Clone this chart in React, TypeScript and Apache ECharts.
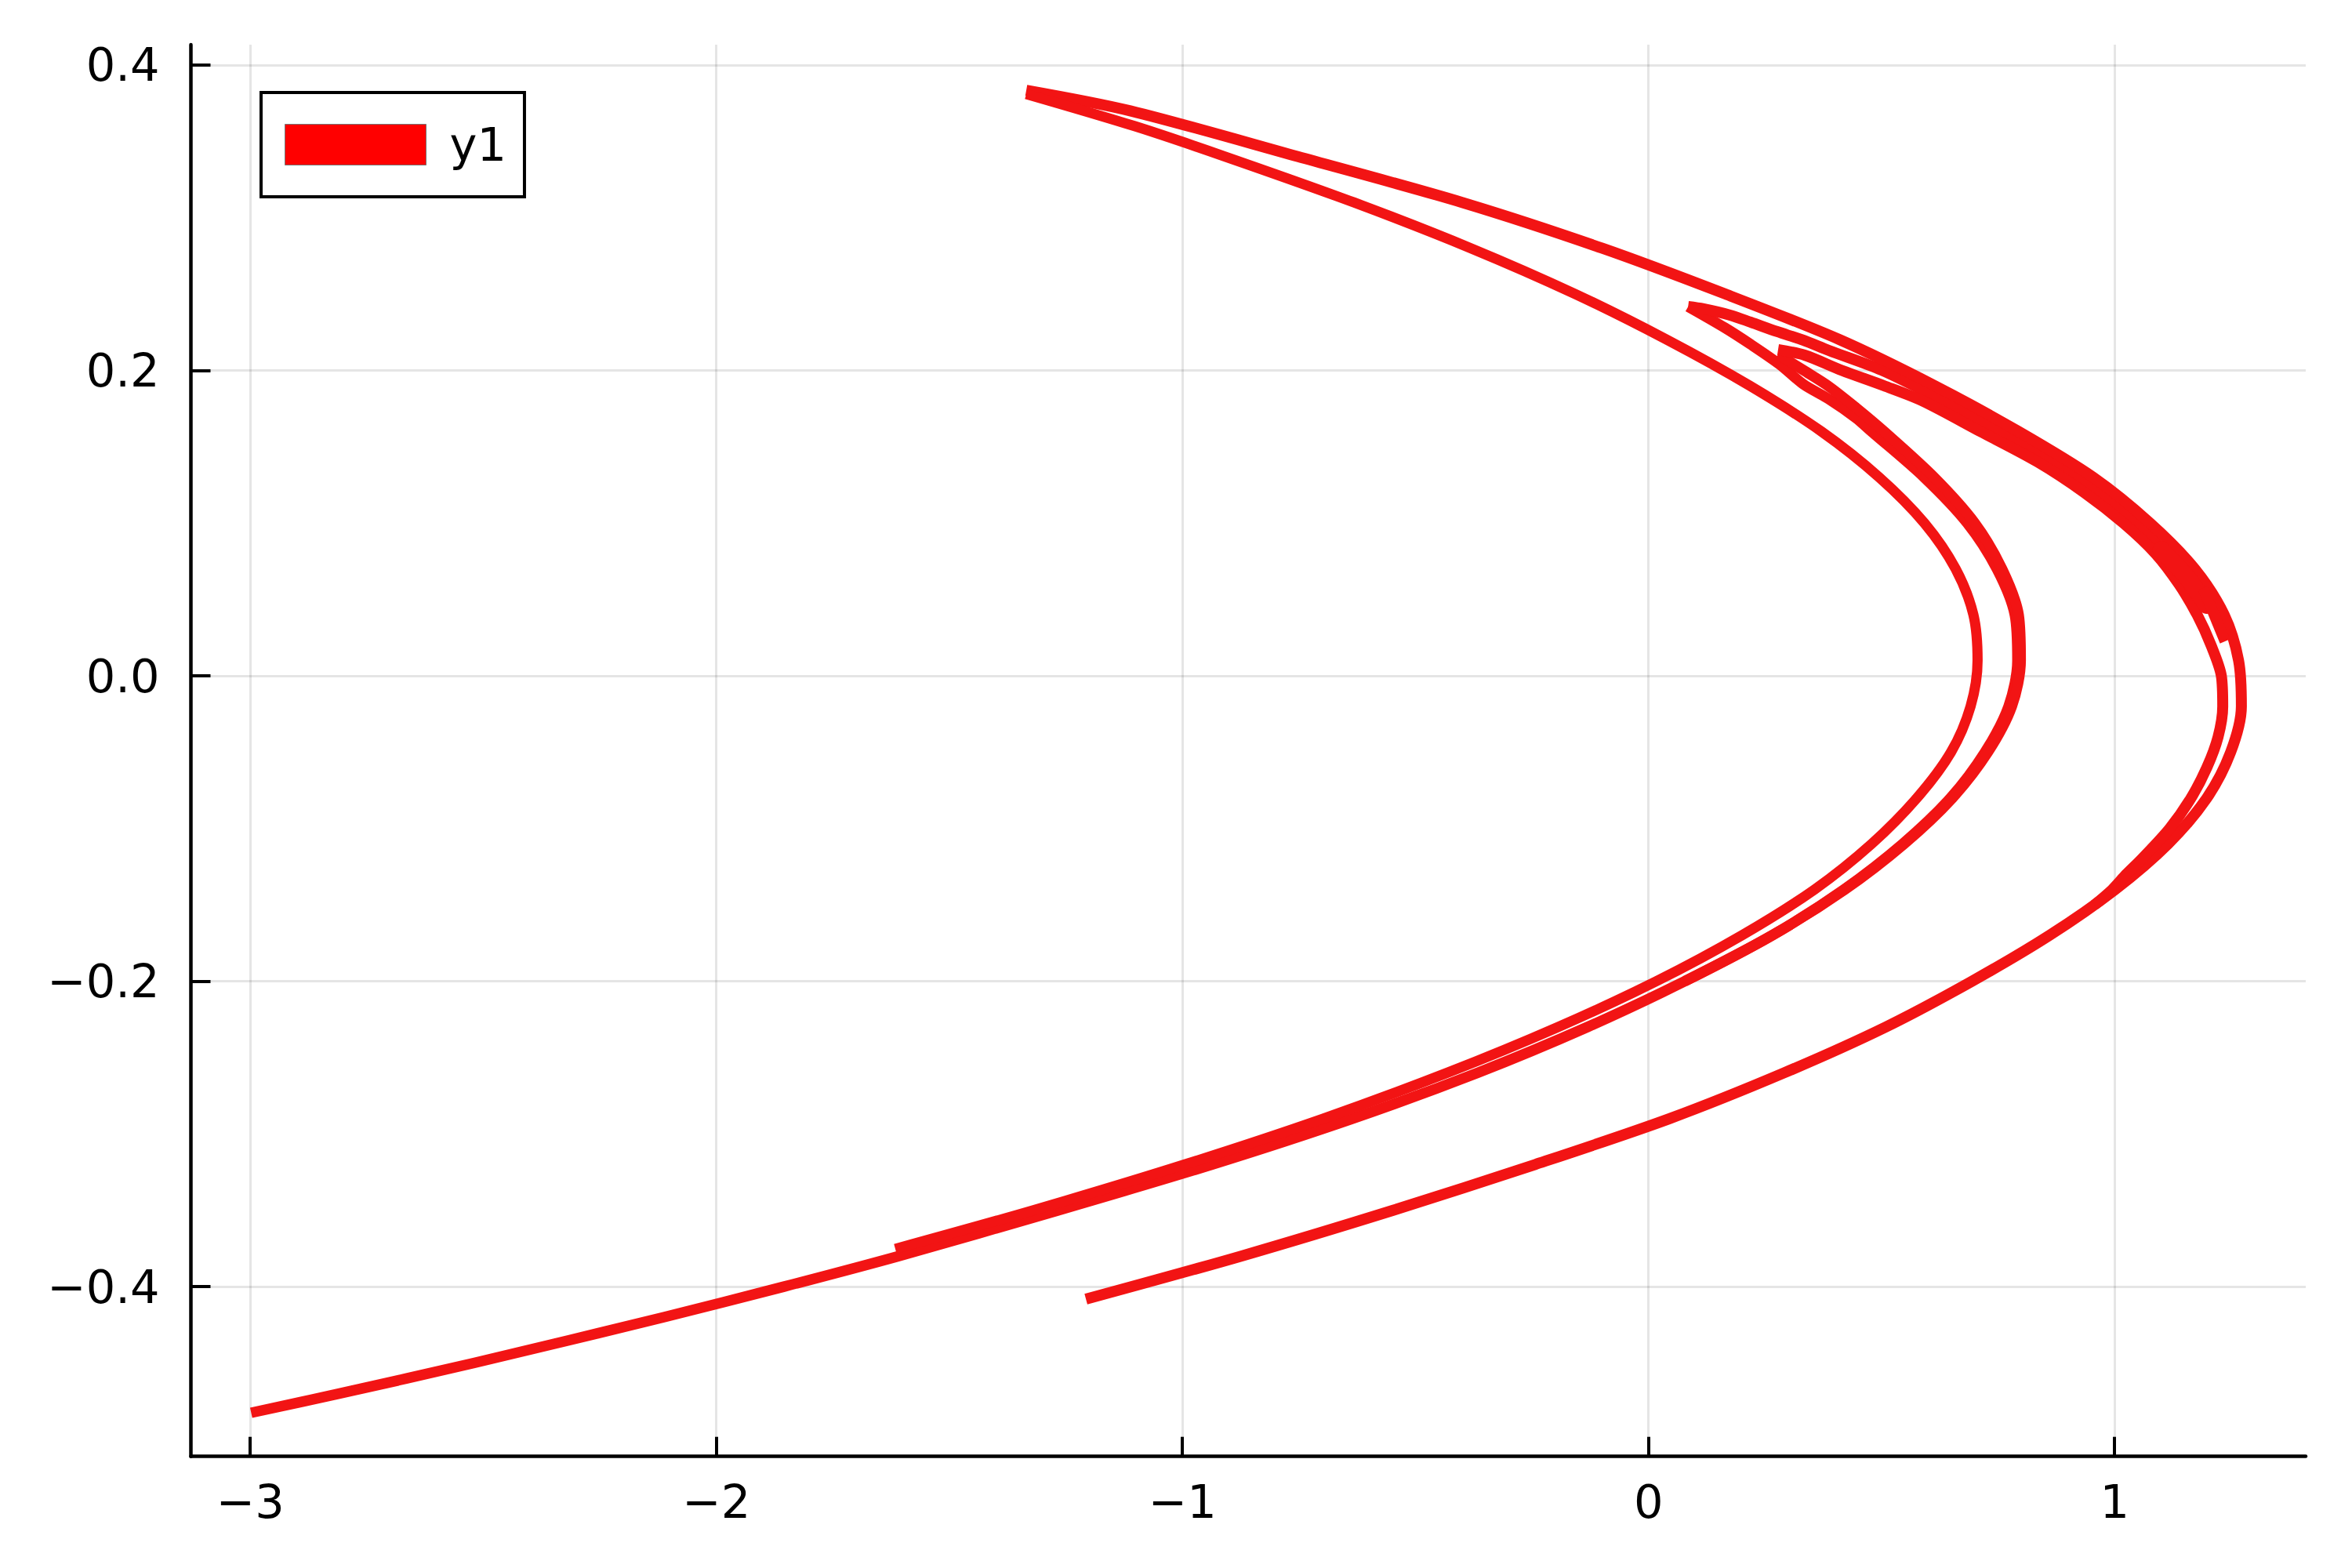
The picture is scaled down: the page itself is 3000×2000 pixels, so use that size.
import React, { useEffect, useRef } from "react";
import * as echarts from "echarts";

const xTicks = [-3, -2, -1, 0, 1];
const yTicks = [-0.4, -0.2, 0, 0.2, 0.4];
const seriesName = "y1";

const firstTipLowerToFarLeft = [[0.085,0.2418],[0.164,0.2279],[0.219,0.2171],[0.282,0.2038],[0.332,0.191],[0.387,0.1812],[0.445,0.1689],[0.4785,0.16],[0.5913,0.13],[0.684,0.1],[0.7475,0.07],[0.786,0.04],[0.7916,0.01],[0.7726,-0.02],[0.722,-0.05],[0.648,-0.08],[0.5455,-0.11],[0.419,-0.14],[0.265,-0.17],[0.078,-0.2],[-0.131,-0.23],[-0.367,-0.26],[-0.635,-0.29],[-0.936,-0.32],[-1.266,-0.35],[-1.609,-0.38],[-1.855,-0.4],[-2.112,-0.42],[-2.52,-0.45],[-2.808,-0.47],[-2.998,-0.4826]];
const secondTipLower = [[0.278,0.2105],[0.332,0.2002],[0.387,0.1895],[0.445,0.1756],[0.5055,0.16],[0.6127,0.13],[0.7,0.1],[0.7585,0.07],[0.794,0.04],[0.7984,0.01],[0.7794,-0.02],[0.728,-0.05],[0.652,-0.08],[0.5485,-0.11],[0.421,-0.14],[0.265,-0.17],[0.078,-0.2]];
const firstTipUpper = [[0.085,0.2418],[0.118,0.2403],[0.175,0.2362],[0.219,0.2316],[0.276,0.2254],[0.332,0.2198],[0.387,0.2131],[0.5,0.2002],[0.613,0.1833],[0.722,0.1653],[0.842,0.1448],[0.932,0.1278],[1.043,0.1012],[1.156,0.0642],[1.198,0.0462]];
const outerStrand = [[-1.335,0.3835],[-1.112,0.37],[-0.752,0.34],[-0.4,0.31],[-0.099,0.28],[0.165,0.25],[0.411,0.22],[0.614,0.19],[0.794,0.16],[0.954,0.13],[1.076,0.1],[1.172,0.07],[1.235,0.04],[1.266,0.01],[1.272,-0.02],[1.249,-0.05],[1.198,-0.08],[1.115,-0.11],[1.001,-0.14],[0.86,-0.17],[0.694,-0.2],[0.509,-0.23],[0.291,-0.26],[0.045,-0.29],[-0.243,-0.32],[-0.548,-0.35],[-0.874,-0.38],[-1.207,-0.4082]];
const secondTipStrand = [[0.278,0.2136],[0.335,0.21],[0.415,0.2],[0.505,0.19],[0.588,0.18],[0.712,0.16],[0.835,0.14],[0.935,0.12],[1.019,0.1],[1.088,0.08],[1.138,0.06],[1.177,0.04],[1.207,0.02],[1.229,0],[1.232,-0.02],[1.222,-0.04],[1.198,-0.06],[1.164,-0.08],[1.118,-0.1],[1.058,-0.12],[1.025,-0.13],[0.995,-0.14],[0.957,-0.15]];
const bandCore = [[1.1,0.0825],[1.156,0.0642],[1.198,0.0462]];
const bandWedge = [[1.19,0.0575],[1.237,0.0226]];
const innerStrand = [[-1.616,-0.3753],[-1.32,-0.35],[-0.995,-0.32],[-0.698,-0.29],[-0.432,-0.26],[-0.194,-0.23],[0.017,-0.2],[0.2,-0.17],[0.356,-0.14],[0.479,-0.11],[0.576,-0.08],[0.649,-0.05],[0.691,-0.02],[0.706,0.01],[0.697,0.04],[0.659,0.07],[0.592,0.1],[0.495,0.13],[0.371,0.16],[0.217,0.19],[0.04,0.22],[-0.157,0.25],[-0.381,0.28],[-0.632,0.31],[-0.908,0.34],[-1.103,0.36],[-1.335,0.381]];

const strands: [number[][], number, string][] = [
  [firstTipLowerToFarLeft, 13.5, "butt"],
  [secondTipLower, 13.5, "butt"],
  [firstTipUpper, 14, "butt"],
  [outerStrand, 14, "butt"],
  [secondTipStrand, 14, "butt"],
  [bandCore, 22, "round"],
  [bandWedge, 14, "butt"],
  [innerStrand, 13, "butt"],
];

const fmt = (v: number, d: number) => {
  const s = Math.abs(v).toFixed(d);
  return v < -1e-9 ? "\u2212" + s : s;
};

export default function App() {
  const ref = useRef<HTMLDivElement>(null);
  useEffect(() => {
    const chart = echarts.init(ref.current!, undefined, { renderer: "svg" });
    const font = "DejaVu Sans";
    const axisCommon = {
      axisLine: { show: true, onZero: false, lineStyle: { color: "#000", width: 4.5, cap: "round" } },
      splitLine: { show: true, lineStyle: { color: "rgba(0,0,0,0.1)", width: 3 } },
      minorTick: { show: false },
    };
    chart.setOption({
      animation: false,
      backgroundColor: "#fff",
      grid: { left: 243.5, top: 57, width: 2697.5, height: 1800.7, containLabel: false },
      legend: {
        show: true,
        data: [seriesName],
        left: 333,
        top: 118,
        orient: "vertical",
        icon: "rect",
        itemWidth: 180,
        itemHeight: 52,
        backgroundColor: "#fff",
        borderColor: "#000",
        borderWidth: 4,
        borderRadius: 0,
        padding: [37, 23, 37, 30],
        itemStyle: { color: "#ff0000", borderColor: "#777", borderWidth: 1 },
        textStyle: { color: "#000", fontFamily: font, fontSize: 59, padding: [0, 0, 0, 25] },
      },
      xAxis: {
        type: "value",
        min: -3.1273,
        max: 1.4101,
        ...axisCommon,
        axisTick: { show: true, inside: true, length: 25, customValues: xTicks, lineStyle: { color: "#000", width: 4 } },
        axisLabel: {
          show: true,
          customValues: xTicks,
          margin: 28,
          color: "#000",
          fontFamily: font,
          fontSize: 59,
          formatter: (v: number) => fmt(v, 0),
        },
      },
      yAxis: {
        type: "value",
        min: -0.5112,
        max: 0.4133,
        ...axisCommon,
        axisTick: { show: true, inside: true, length: 25, customValues: yTicks, lineStyle: { color: "#000", width: 4 } },
        axisLabel: {
          show: true,
          customValues: yTicks,
          margin: 40,
          color: "#000",
          fontFamily: font,
          fontSize: 59,
          formatter: (v: number) => fmt(v, 1),
        },
      },
      series: strands.map(([data, width, cap]) => ({
        type: "line",
        name: seriesName,
        data,
        showSymbol: false,
        symbol: "none",
        smooth: 0.3,
        silent: true,
        lineStyle: { color: "#f21414", width, cap, join: "round" },
        itemStyle: { color: "#ff0000" },
      })),
    });
    return () => chart.dispose();
  }, []);
  return <div ref={ref} style={{ position: "absolute", left: 0, top: 0, width: 3000, height: 2000 }} />;
}
